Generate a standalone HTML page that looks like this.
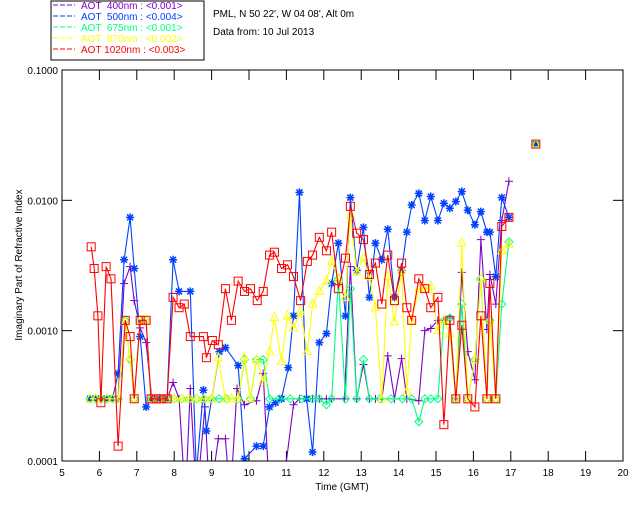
<!DOCTYPE html>
<html><head><meta charset="utf-8"><style>
body{margin:0;background:#fff;}
svg text{font-family:"Liberation Sans",sans-serif;font-size:10px;}
</style></head><body>
<svg id="chart" width="640" height="512" xmlns="http://www.w3.org/2000/svg">
<rect width="640" height="512" fill="#fff"/>
<g id="legend">
<rect x="51" y="1" width="153" height="59" fill="#fff" stroke="#000" stroke-width="1"/>
</g>
<text x="213" y="17">PML, N 50 22', W 04 08', Alt 0m</text>
<text x="213" y="35">Data from: 10 Jul 2013</text>
<text transform="translate(22,265) rotate(-90)" text-anchor="middle">Imaginary Part of Refractive Index</text>
<text x="342" y="490" text-anchor="middle">Time (GMT)</text>
<defs><clipPath id="clip"><rect x="62" y="70" width="561" height="391"/></clipPath></defs>
<g id="axes"></g>
<g id="series" clip-path="url(#clip)"></g>
<rect x="62" y="70" width="561" height="391" fill="none" stroke="#000"/>
</svg>
<script>
const xTicks=[5,6,7,8,9,10,11,12,13,14,15,16,17,18,19,20];
const yTicks=[0.1,0.01,0.001,0.0001];
const yTickLabels=["0.1000","0.0100","0.0010","0.0001"];
const legendLabels=["AOT  400nm : <0.001>","AOT  500nm : <0.004>","AOT  675nm : <0.001>","AOT  870nm : <0.002>","AOT 1020nm : <0.003>"];
const seriesColors=["#7f00c8","#0040ff","#00ff80","#ffff00","#ff0000"];

const tPurple=[5.75,5.9,6.05,6.2,6.35,6.5,6.66,6.82,6.93,7.09,7.25,7.4,7.6,7.81,7.97,8.13,8.3,8.43,8.6,8.82,8.95,9.18,9.37,9.5,9.68,9.88,10.2,10.38,10.55,10.87,11.19,11.35,11.7,11.88,12.07,12.21,12.55,12.71,12.88,13.06,13.22,13.38,13.55,13.71,13.89,14.08,14.22,14.54,14.7,14.86,15.05,15.21,15.37,15.53,15.69,15.85,16.04,16.2,16.36,16.44,16.6,16.76,16.95];
const vPurple=[0.0003,0.0003,0.0003,0.0003,0.0003,0.0003,0.0023,0.0031,0.0017,0.00105,0.00081,0.0003,0.0003,0.0003,0.0004,0.0003,0.00005,0.00036,0.00005,0.00026,0.00005,0.000148,0.000148,0.00005,0.00036,0.00027,0.00029,0.00047,0.00005,0.00005,0.00027,0.0003,0.0003,0.0003,0.0003,0.0003,0.0003,0.0031,0.0003,0.00055,0.0003,0.0003,0.0003,0.00064,0.0003,0.00061,0.0003,0.00029,0.001,0.00104,0.0012,0.0012,0.00125,0.0003,0.0028,0.00069,0.00042,0.005,0.00102,0.0027,0.0016,0.007,0.014];

const tBlue=[5.75,5.9,6.05,6.2,6.35,6.5,6.66,6.82,6.93,7.09,7.25,7.4,7.6,7.81,7.97,8.13,8.43,8.59,8.78,8.86,9.21,9.37,9.71,9.88,10.2,10.38,10.55,10.71,10.87,11.05,11.19,11.35,11.54,11.7,11.88,12.07,12.21,12.39,12.58,12.71,12.88,13.06,13.22,13.38,13.55,13.71,13.89,14.08,14.22,14.35,14.54,14.7,14.86,15.05,15.21,15.37,15.53,15.69,15.85,16.04,16.2,16.36,16.44,16.6,16.76,16.95];
const vBlue=[0.0003,0.0003,0.0003,0.0003,0.0003,0.00047,0.0035,0.0074,0.003,0.0009,0.00026,0.0003,0.0003,0.0003,0.0035,0.002,0.002,0.00008,0.00035,0.00017,0.00069,0.00074,0.00054,0.000104,0.00013,0.00013,0.00026,0.00028,0.0003,0.00052,0.0013,0.0115,0.0003,0.000117,0.00081,0.00095,0.0023,0.0047,0.0013,0.0105,0.0029,0.0062,0.0018,0.0047,0.0035,0.006,0.0018,0.0029,0.0057,0.0092,0.0113,0.007,0.0107,0.007,0.0095,0.0087,0.0098,0.0117,0.0084,0.0065,0.0082,0.0057,0.0057,0.0026,0.0105,0.0074];

const tGreen=[5.75,5.9,6.05,6.2,6.35,6.5,6.69,6.82,6.93,7.09,7.25,7.38,7.6,7.81,8.0,8.2,8.4,8.6,8.8,9.0,9.2,9.4,9.71,9.88,10.04,10.2,10.38,10.55,10.8,11.1,11.4,11.7,11.88,12.07,12.21,12.39,12.58,12.71,12.88,13.06,13.22,13.5,13.8,14.1,14.35,14.54,14.7,14.86,15.05,15.21,15.37,15.53,15.69,15.85,16.04,16.2,16.36,16.44,16.6,16.76,16.95];
const vGreen=[0.0003,0.0003,0.0003,0.0003,0.0003,0.0003,0.0012,0.0006,0.0003,0.0012,0.0012,0.0003,0.0003,0.0003,0.0003,0.0003,0.0003,0.0003,0.0003,0.0003,0.0003,0.0003,0.0003,0.0006,0.0003,0.0006,0.0006,0.0003,0.0003,0.0003,0.0003,0.0003,0.0003,0.00027,0.0003,0.0025,0.0003,0.0021,0.0003,0.0006,0.0003,0.0003,0.0003,0.0003,0.0003,0.0002,0.0003,0.0003,0.0003,0.0012,0.00125,0.0003,0.0016,0.0003,0.0006,0.0025,0.0003,0.0012,0.0003,0.0016,0.0048];

const tYellow=[5.75,5.9,6.05,6.2,6.35,6.5,6.69,6.82,6.93,7.09,7.25,7.38,7.6,7.81,8.0,8.2,8.4,8.6,8.8,9.0,9.18,9.37,9.53,9.71,9.88,10.04,10.2,10.38,10.55,10.68,10.87,11.03,11.19,11.38,11.56,11.7,11.88,12.07,12.21,12.39,12.58,12.71,12.88,13.06,13.22,13.38,13.55,13.71,13.89,14.08,14.22,14.35,14.54,14.7,14.86,15.05,15.21,15.37,15.53,15.69,15.85,16.04,16.2,16.36,16.44,16.6,16.76,16.95];
const vYellow=[0.0003,0.0003,0.0003,0.0003,0.0003,0.0003,0.00117,0.00062,0.0003,0.0012,0.0012,0.0003,0.0003,0.0003,0.0003,0.0003,0.0003,0.0003,0.0003,0.0003,0.00062,0.0003,0.0003,0.0003,0.00062,0.0003,0.0006,0.00041,0.00069,0.00126,0.00058,0.0013,0.00105,0.0014,0.00069,0.0016,0.002,0.0024,0.0034,0.0025,0.0018,0.0077,0.0028,0.0036,0.0026,0.0015,0.0003,0.0026,0.00117,0.0029,0.00034,0.0012,0.0021,0.0021,0.0022,0.001,0.0012,0.00095,0.0003,0.0047,0.0003,0.0006,0.0025,0.0003,0.0012,0.0003,0.0041,0.0046];

const tRed=[5.78,5.86,5.96,6.04,6.18,6.31,6.5,6.69,6.82,6.93,7.09,7.25,7.38,7.52,7.65,7.81,7.97,8.13,8.27,8.43,8.78,8.86,9.02,9.18,9.37,9.53,9.71,9.88,10.04,10.22,10.38,10.55,10.68,10.87,11.03,11.19,11.38,11.56,11.7,11.88,12.07,12.21,12.39,12.58,12.71,12.88,13.06,13.22,13.38,13.55,13.71,13.89,14.08,14.22,14.35,14.54,14.7,14.86,15.05,15.21,15.37,15.53,15.69,15.85,16.04,16.2,16.36,16.44,16.6,16.76,16.95];
const vRed=[0.0044,0.003,0.0013,0.00028,0.0031,0.0025,0.00013,0.0012,0.0009,0.0003,0.0012,0.0012,0.0003,0.0003,0.0003,0.0003,0.0018,0.0015,0.0016,0.0009,0.0009,0.00062,0.00084,0.00078,0.0021,0.0012,0.0024,0.002,0.0021,0.0017,0.002,0.0038,0.004,0.003,0.0032,0.0026,0.0017,0.0034,0.0038,0.0052,0.0041,0.0057,0.0021,0.0036,0.009,0.0056,0.005,0.0027,0.0033,0.0016,0.0038,0.0017,0.0033,0.0015,0.0012,0.0025,0.0021,0.0015,0.0018,0.00019,0.0012,0.0003,0.0011,0.0003,0.00026,0.0013,0.0003,0.0023,0.0003,0.0063,0.0074];

const tLate=[17.67];
const vLate=[0.027];

const NS="http://www.w3.org/2000/svg";
const X0=62,X1=623,Y0=70,Y1=461;
function xs(t){return X0+(t-5)/(20-5)*(X1-X0);}
function ys(v){return Y0+(Math.log10(0.1)-Math.log10(v))/3*(Y1-Y0);}
function mk(tag,attrs,parent){const e=document.createElementNS(NS,tag);for(const k in attrs)e.setAttribute(k,attrs[k]);parent.appendChild(e);return e;}

const axes=document.getElementById('axes');
xTicks.forEach((t,i)=>{
  const x=xs(t);
  const g=mk('g',{},axes);
  
  
  mk('line',{x1:x,y1:Y1,x2:x,y2:Y1-10,stroke:'#000'},g);
  mk('line',{x1:x,y1:Y0,x2:x,y2:Y0+10,stroke:'#000'},g);
  const tx=mk('text',{x:x,y:Y1+15,'text-anchor':'middle'},g);tx.textContent=t;
});
yTicks.forEach((v,i)=>{
  const y=ys(v);
  const g=mk('g',{},axes);
  
  
  mk('line',{x1:X0,y1:y,x2:X0+10,y2:y,stroke:'#000'},g);
  mk('line',{x1:X1,y1:y,x2:X1-10,y2:y,stroke:'#000'},g);
  const tx=mk('text',{x:X0-4,y:y+4,'text-anchor':'end'},g);tx.textContent=yTickLabels[i];
});

const legend=document.getElementById('legend');
legendLabels.forEach((lab,i)=>{
  const y=9+i*11;
  const g=mk('g',{},legend);
  
  
  mk('line',{x1:53,y1:y-4,x2:75,y2:y-4,stroke:seriesColors[i],'stroke-dasharray':'5,2'},g);
  const tx=mk('text',{x:81,y:y,fill:seriesColors[i]},g);
  tx.setAttribute('style','white-space:pre');tx.textContent=lab;
});

function marker(kind,x,y,c,g){
  if(kind==='plus'){mk('path',{d:`M${x-4},${y}H${x+4}M${x},${y-4}V${y+4}`,stroke:c,fill:'none'},g);}
  else if(kind==='star'){mk('path',{d:`M${x-4},${y}H${x+4}M${x},${y-4}V${y+4}M${x-3},${y-3}L${x+3},${y+3}M${x-3},${y+3}L${x+3},${y-3}`,stroke:c,fill:'none','stroke-width':1.5},g);}
  else if(kind==='diamond'){mk('path',{d:`M${x},${y-4}L${x+4},${y}L${x},${y+4}L${x-4},${y}Z`,stroke:c,fill:'none'},g);}
  else if(kind==='tri'){mk('path',{d:`M${x},${y-5}L${x+4},${y+3}L${x-4},${y+3}Z`,stroke:c,fill:'none'},g);}
  else {mk('rect',{x:x-4,y:y-4,width:8,height:8,stroke:c,fill:'none'},g);}
}
const seriesG=document.getElementById('series');
const defs=[[tPurple,vPurple,'plus','series-400nm'],[tBlue,vBlue,'star','series-500nm'],[tGreen,vGreen,'diamond','series-675nm'],[tYellow,vYellow,'tri','series-870nm'],[tRed,vRed,'square','series-1020nm']];
defs.forEach((d,i)=>{
  const [T,V,kind,name]=d;const c=seriesColors[i];
  const g=mk('g',{},seriesG);
  
  
  const pts=T.map((t,j)=>xs(t).toFixed(1)+','+ys(V[j]).toFixed(1)).join(' ');
  const pl=mk('polyline',{points:pts,fill:'none',stroke:c,'stroke-width':1.1},g);
  
  
  T.forEach((t,j)=>marker(kind,xs(t),ys(V[j]),c,g));
  tLate.forEach((t,j)=>marker(kind,xs(t),ys(vLate[j]),c,g));
});
</script>
</body></html>
